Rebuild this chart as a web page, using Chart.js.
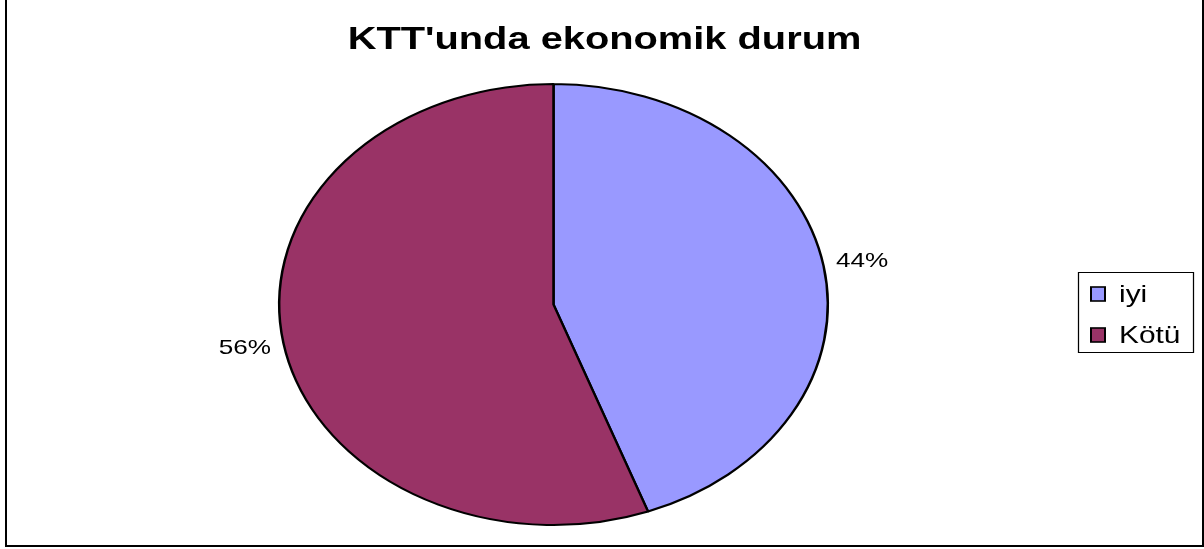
<!DOCTYPE html>
<html><head><meta charset="utf-8">
<script src="https://cdn.jsdelivr.net/npm/chart.js@4"></script>
<style>
html,body{margin:0;padding:0;background:#fff;overflow:hidden}
#wrap{position:relative;width:1204px;height:549px}
canvas{position:absolute;left:0;top:0}
#frame{position:absolute;left:5px;top:-5px;width:1199px;height:552px;box-sizing:border-box;border:2px solid #000;pointer-events:none}
</style></head><body>
<div id="wrap"><canvas id="c" width="1204" height="549" style="width:1204px;height:549px"></canvas><div id="frame"></div></div>
<script>
const titleText = "KTT'unda ekonomik durum";
const categories = ["iyi", "Kötü"];
const values = [44.4, 55.6];
const percentLabels = ["44%", "56%"];
const colors = ["#9999FF", "#993366"];

const SX = 1.244; // horizontal stretch of the whole picture
const FONT = '"Liberation Sans", Arial, sans-serif';

const stretch = {
  id: 'stretch',
  beforeDraw(chart) {
    const ctx = chart.ctx;
    ctx.save();
    ctx.scale(SX, 1);
  },
  afterDraw(chart) {
    const ctx = chart.ctx;
    // title
    ctx.fillStyle = '#000';
    ctx.font = 'bold 32px ' + FONT;
    ctx.textAlign = 'center';
    ctx.textBaseline = 'alphabetic';
    ctx.fillText(titleText, 604.5 / SX, 49);
    // percentage labels
    const meta = chart.getDatasetMeta(0);
    ctx.font = '21px ' + FONT;
    ctx.textBaseline = 'middle';
    meta.data.forEach((arc, i) => {
      const mid = (arc.startAngle + arc.endAngle) / 2;
      const r = arc.outerRadius;
      const x = arc.x + Math.cos(mid) * r;
      const y = arc.y + Math.sin(mid) * (r + 28);
      const right = Math.cos(mid) >= 0;
      ctx.textAlign = right ? 'left' : 'right';
      ctx.fillText(percentLabels[i], x + (right ? 10 : -10), y);
    });
    // legend
    ctx.lineWidth = 1;
    ctx.strokeStyle = '#000';
    ctx.strokeRect(1078.5 / SX, 272.5, (1193 - 1078) / SX, 80);
    const boxTops = [287, 328];
    const baselines = [302, 343];
    ctx.font = '24px ' + FONT;
    ctx.textAlign = 'left';
    ctx.textBaseline = 'alphabetic';
    categories.forEach((c, i) => {
      ctx.fillStyle = colors[i];
      ctx.fillRect(1091 / SX, boxTops[i], 14 / SX, 14);
      ctx.lineWidth = 1.6;
      ctx.strokeRect(1091 / SX, boxTops[i], 14 / SX, 14);
      ctx.fillStyle = '#000';
      ctx.fillText(c, 1119 / SX, baselines[i]);
    });
    ctx.restore();
  }
};

const cx = 553.5 / SX, R = 221.5;
new Chart(document.getElementById('c'), {
  type: 'pie',
  data: {
    labels: categories,
    datasets: [{
      data: values,
      backgroundColor: colors,
      borderColor: '#000',
      borderWidth: 2,
      hoverOffset: 0
    }]
  },
  options: {
    responsive: false,
    animation: false,
    devicePixelRatio: 1,
    layout: { padding: { left: cx - R, right: 1204 - (cx + R), top: 83, bottom: 549 - 526 } },
    plugins: { legend: { display: false }, title: { display: false }, tooltip: { enabled: false } },
    events: []
  },
  plugins: [stretch]
});
</script>
</body></html>
